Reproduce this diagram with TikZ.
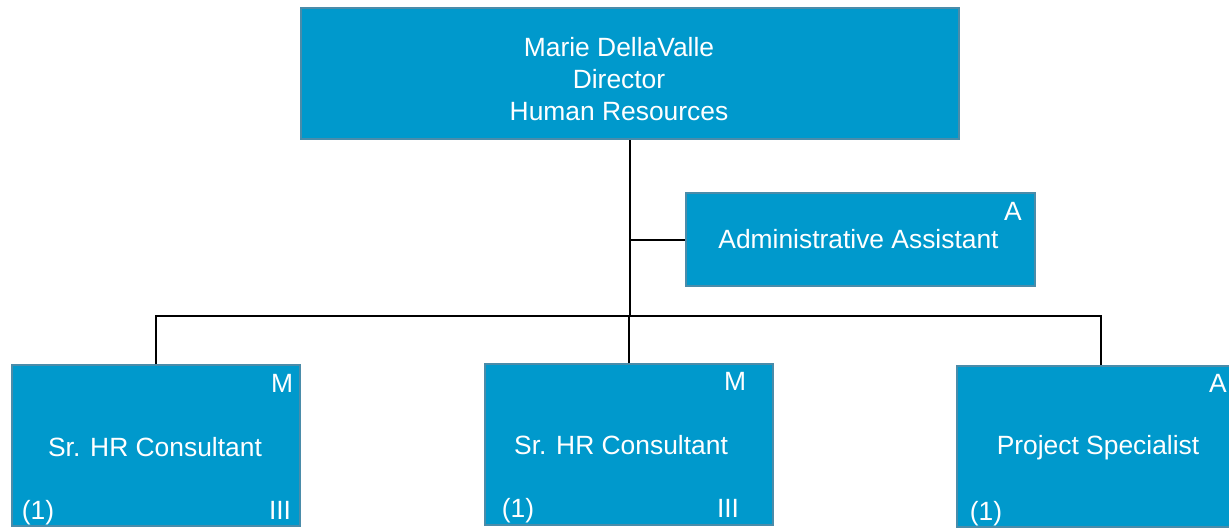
\documentclass[tikz,border=0pt]{standalone}
\usepackage{fontspec}
\setmainfont{Liberation Sans}
\definecolor{boxblue}{RGB}{0,153,204}
\definecolor{boxedge}{RGB}{74,140,170}
\begin{document}
\begin{tikzpicture}[x=0.5pt, y=-0.5pt,
    posbox/.style={draw=boxedge, line width=1pt, fill=boxblue, text=white,
        font=\fontsize{13.2}{16}\selectfont, align=center, inner sep=0pt},
    boxtext/.style={text=white, font=\fontsize{13.2}{16}\selectfont, align=center, inner sep=0pt},
    tag/.style={text=white, font=\fontsize{13.2}{16}\selectfont, inner sep=0pt, anchor=base},
    link/.style={black, line width=1pt}]
    % Page frame
    \useasboundingbox (0,0) rectangle (1229,527);
    \clip (0,0) rectangle (1229,527);

    % Director
    \node[posbox, minimum width=329pt, minimum height=65.5pt] (director) at (630,73.5) {};
    \node[boxtext] (directortext) at (619,79) {Marie DellaValle\\Director\\Human Resources};

    % Assistant
    \node[posbox, minimum width=174.5pt, minimum height=46.5pt] (admin) at (860.5,239.5)
        {\hspace*{-2pt}Administrative Assistant};
    \node[tag] (adminA) at (1013,220) {A};

    % Consultants and specialist
    \node[posbox, minimum width=144pt, minimum height=80.5pt] (left) at (156,445.5) {};
    \node[boxtext] (lefttext) at (155,447) {Sr. HR Consultant};
    \node[tag] (leftM) at (282,392) {M};
    \node[tag] (leftN) at (38,519) {(1)};
    \node[tag] (leftG) at (280,519) {III};

    \node[posbox, minimum width=144pt, minimum height=80.5pt] (mid) at (628.5,444.5) {};
    \node[boxtext] (midtext) at (621,445) {Sr. HR Consultant};
    \node[tag] (midM) at (735,390) {M};
    \node[tag] (midN) at (518,517) {(1)};
    \node[tag] (midG) at (728,517) {III};

    \node[posbox, minimum width=144pt, minimum height=80.5pt] (right) at (1101,446.5) {};
    \node[boxtext] (righttext) at (1098,448) {Project Specialist};
    \node[tag] (rightA) at (1218,392) {A};
    \node[tag] (rightN) at (986,520) {(1)};

    % Reporting lines
    \coordinate (bus) at (629,316);
    \draw[link] (director.south) -- (director.south |- bus);
    \draw[link] (director.south |- admin.west) -- (admin.west);
    \draw[link] (left.north) |- (right.north |- bus) -- (right.north);
    \draw[link] (mid.north) -- (mid.north |- bus);
\end{tikzpicture}
\end{document}
